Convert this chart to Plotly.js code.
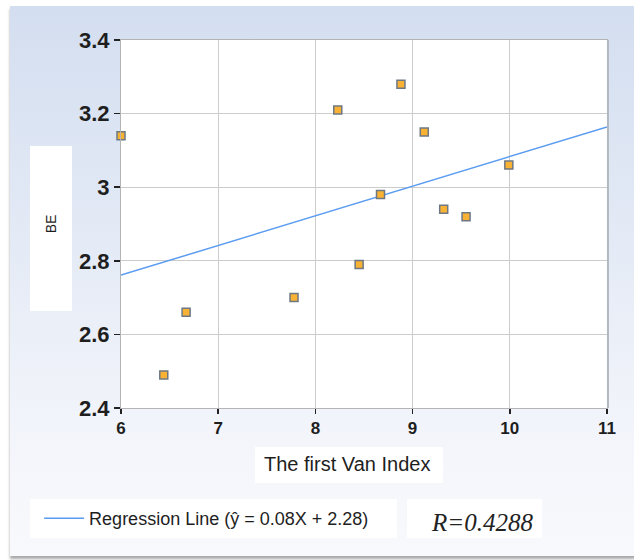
<!DOCTYPE html>
<html>
<head>
<meta charset="utf-8">
<script src="https://cdn.plot.ly/plotly-3.0.1.min.js"></script>
<style>
  html, body { margin: 0; padding: 0; background: #ffffff; width: 634px; height: 560px; overflow: hidden; }
  #card {
    position: absolute; left: 10px; top: 6px; width: 630px; height: 550px;
    background: linear-gradient(to bottom, #d3def0 0%, #e5ebf6 45%, #f4f6fb 82%, #f8f9fc 100%);
    border-bottom-right-radius: 8px;
    box-shadow: 0 3px 3px rgba(0,0,0,0.35);
  }
  #chart { position: absolute; left: 0; top: 0; width: 634px; height: 560px; }
</style>
</head>
<body>
<div id="card"></div>
<div id="chart"></div>
<script>
// Observed data points (The first Van Index vs BE)
var vanIndex = [6.00, 6.44, 6.67, 7.78, 8.23, 8.45, 8.67, 8.88, 9.12, 9.32, 9.55, 9.99];
var beValues = [3.14, 2.49, 2.66, 2.70, 3.21, 2.79, 2.98, 3.28, 3.15, 2.94, 2.92, 3.06];

// Regression line end points (ŷ = 0.08X + 2.28 as drawn)
var regX = [6, 11];
var regY = [2.761, 3.164];

var xTickVals = [6, 7, 8, 9, 10, 11];
var yTickVals = [2.4, 2.6, 2.8, 3, 3.2, 3.4];
var yTickText = ['2.4', '2.6', '2.8', '3', '3.2', '3.4'];

var legendLabel = 'Regression Line (ŷ = 0.08X + 2.28)';
var rLabel = 'R=0.4288';
var xTitle = 'The first Van Index';
var yTitle = 'BE';

var sans = 'Liberation Sans, Arial, sans-serif';

var traces = [
  {
    x: regX, y: regY, type: 'scatter', mode: 'lines',
    name: legendLabel, showlegend: true,
    line: { color: '#5b9cf0', width: 1.5 },
    hoverinfo: 'skip'
  },
  {
    x: vanIndex, y: beValues, type: 'scatter', mode: 'markers',
    showlegend: false, cliponaxis: false,
    marker: { symbol: 'square', size: 8, color: '#f9b233', line: { color: '#6e7884', width: 1.5 } }
  }
];

var layout = {
  width: 634, height: 560,
  margin: { l: 121, r: 27, t: 40, b: 152, pad: 0 },
  paper_bgcolor: 'rgba(0,0,0,0)',
  plot_bgcolor: '#ffffff',
  font: { family: sans, color: '#1e1e1e' },
  xaxis: {
    range: [6, 11], tickvals: xTickVals, ticktext: xTickVals.map(String),
    showgrid: true, gridcolor: '#cccccc', gridwidth: 1,
    showline: true, linecolor: '#b4b4b4', linewidth: 1, mirror: true,
    ticks: 'outside', ticklen: 5, tickwidth: 1.5, tickcolor: '#222222',
    tickfont: { family: sans, size: 17, weight: 'bold', color: '#1e1e1e' },
    zeroline: false, automargin: false
  },
  yaxis: {
    range: [2.4, 3.4], tickvals: yTickVals, ticktext: yTickText,
    showgrid: true, gridcolor: '#cccccc', gridwidth: 1,
    showline: true, linecolor: '#b4b4b4', linewidth: 1, mirror: true,
    ticks: 'outside', ticklen: 6, tickwidth: 1.5, tickcolor: '#222222',
    tickfont: { family: sans, size: 22, weight: 'bold', color: '#1e1e1e' },
    zeroline: false, automargin: false,
    title: { text: yTitle, font: { family: sans, size: 14, color: '#1e1e1e' }, standoff: 19 }
  },
  showlegend: true,
  legend: {
    orientation: 'h', x: -0.1685, xanchor: 'left', y: -0.3003, yanchor: 'middle',
    bgcolor: 'rgba(0,0,0,0)', borderwidth: 0, itemwidth: 40,
    font: { family: sans, size: 18, color: '#1e1e1e' }
  },
  shapes: [
    { type: 'rect', xref: 'paper', yref: 'paper', x0: 0.2757, x1: 0.6626, y0: -0.2038, y1: -0.106,
      fillcolor: '#ffffff', line: { width: 0 }, layer: 'below' },
    { type: 'rect', xref: 'paper', yref: 'paper', x0: -0.1872, x1: -0.1008, y0: 0.2636, y1: 0.712,
      fillcolor: '#ffffff', line: { width: 0 }, layer: 'below' },
    { type: 'rect', xref: 'paper', yref: 'paper', x0: -0.1872, x1: 0.5679, y0: -0.3533, y1: -0.2473,
      fillcolor: '#ffffff', line: { width: 0 }, layer: 'below' },
    { type: 'rect', xref: 'paper', yref: 'paper', x0: 0.5885, x1: 0.8663, y0: -0.3533, y1: -0.2473,
      fillcolor: '#ffffff', line: { width: 0 }, layer: 'below' },
    { type: 'line', xref: 'paper', yref: 'paper', x0: 1.002, x1: 1.002, y0: 0, y1: 1,
      line: { color: '#b3b8c0', width: 2 }, layer: 'above' }
  ],
  annotations: [
    { text: xTitle, xref: 'paper', yref: 'paper', x: 0.464, y: -0.152,
      xanchor: 'center', yanchor: 'middle', showarrow: false,
      font: { family: sans, size: 20, color: '#1e1e1e' } },
    { text: '<i>' + rLabel + '</i>', xref: 'paper', yref: 'paper', x: 0.7418, y: -0.3098,
      xanchor: 'center', yanchor: 'middle', showarrow: false,
      font: { family: 'Liberation Serif, Times New Roman, serif', size: 25, color: '#222222' } }
  ]
};

Plotly.newPlot('chart', traces, layout, { displayModeBar: false, staticPlot: true });
</script>
</body>
</html>
